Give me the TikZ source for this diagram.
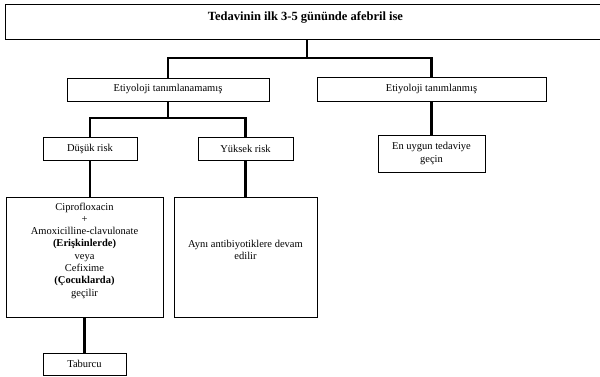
\documentclass[tikz,border=0pt]{standalone}
\usepackage{fontspec}
\setmainfont{Liberation Serif}
\begin{document}
\begin{tikzpicture}[x=1pt,y=-1pt,
  box/.style={draw, line width=1pt, rectangle, inner sep=0pt, outer sep=0pt},
  txt/.style={align=center, inner sep=0pt, font=\fontsize{10.5}{12.3}\selectfont},
  conn/.style={line width=2.2pt}]
\useasboundingbox (0,0) rectangle (600,376);
% boxes
\node[box, minimum width=595pt, minimum height=35pt] (top) at (302.5,21.5) {};
\node[txt, font=\bfseries\fontsize{12.5}{14}\selectfont] (title) at (305.5,17) {Tedavinin ilk 3-5 gününde afebril ise};
\node[box, minimum width=202pt, minimum height=23pt] (left) at (168,89.5) {};
\node[txt] (lefttxt) at (168,89) {Etiyoloji tanımlanamamış};
\node[box, minimum width=229pt, minimum height=24pt] (right) at (431.5,89) {};
\node[txt] (righttxt) at (431.5,88.5) {Etiyoloji tanımlanmış};
\node[box, minimum width=94pt, minimum height=23pt] (low) at (90,148.5) {};
\node[txt] (lowtxt) at (90,148.5) {Düşük risk};
\node[box, minimum width=95pt, minimum height=23pt] (high) at (245.5,148.5) {};
\node[txt] (hightxt) at (245.5,148.5) {Yüksek risk};
\node[box, minimum width=107pt, minimum height=37pt] (best) at (431.5,153.5) {};
\node[txt] (besttxt) at (431.5,153.5) {En uygun tedaviye\\geçin};
\node[box, minimum width=157pt, minimum height=120pt] (bigl) at (84.5,257) {};
\node[txt] (bigltxt) at (84.5,250.5) {Ciprofloxacin\\+\\Amoxicilline-clavulonate\\\textbf{(Erişkinlerde)}\\veya\\Cefixime\\\textbf{(Çocuklarda)}\\geçilir};
\node[box, minimum width=143pt, minimum height=120pt] (bigr) at (245.5,257) {};
\node[txt] (bigrtxt) at (245.5,250) {Aynı antibiyotiklere devam\\edilir};
\node[box, minimum width=83pt, minimum height=22pt] (tab) at (84.5,364) {};
\node[txt] (tabtxt) at (84.5,364) {Taburcu};
% junctions
\coordinate (j1) at (307,58);
\coordinate (j2) at (168,118);
% connectors
\draw[conn] (top.south -| j1) -- (j1);
\draw[conn] (left.north) -- (left.north |- j1) -- (right.north |- j1) -- (right.north);
\draw[conn] (left.south) -- (j2);
\draw[conn] (low.north) -- (low.north |- j2) -- (high.north |- j2) -- (high.north);
\draw[conn] (right.south) -- (best.north);
\draw[conn] (low.south) -- (low.south |- bigl.north);
\draw[conn] (high.south) -- (bigr.north);
\draw[conn] (bigl.south) -- (tab.north);
\end{tikzpicture}
\end{document}
